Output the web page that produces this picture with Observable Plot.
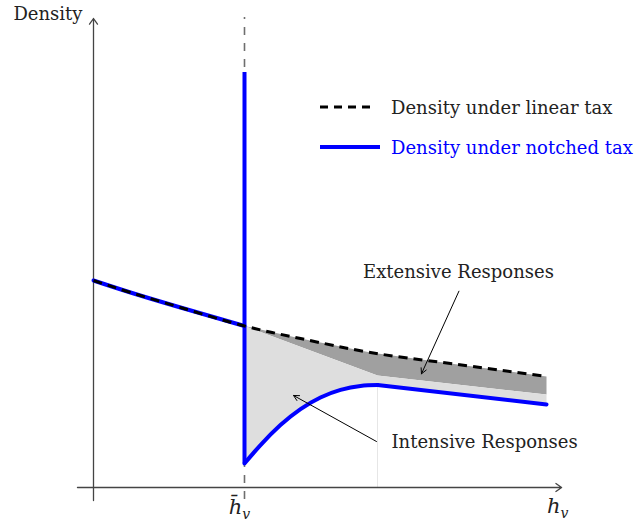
<!DOCTYPE html>
<html>
<head>
<meta charset="utf-8">
<script src="https://cdn.jsdelivr.net/npm/d3@7"></script>
<script src="https://cdn.jsdelivr.net/npm/@observablehq/plot@0.6"></script>
<style>
  body { margin: 0; background: white; }
  #chart { position: relative; width: 641px; height: 521px; font-family: 'DejaVu Serif', serif; }
  .legend { position: absolute; left: 318px; top: 96px; font-size: 18px; }
  .legend .row { display: flex; align-items: center; height: 22px; margin-bottom: 18px; white-space: nowrap; }
  .legend svg { width: 66px; height: 22px; margin-right: 7px; flex: none; }
</style>
</head>
<body>
<div id="chart"></div>
<script>
// Density under a linear tax (counterfactual), sampled along h_v
const linearX = [0, 0.245, 0.576, 1.0, 1.371, 1.834, 2.364, 3.0];
const linearY = [2.07, 1.95, 1.80, 1.615, 1.49, 1.35, 1.24, 1.11];

// Notch location (h̄_v) and the bunching spike
const notchX = 1.0;
const spikeY = [0.24, 4.15];

// Density under the notched tax, just above the notch
const bumpX = [1.0, 1.106, 1.238, 1.371, 1.503, 1.636, 1.768, 1.881];
const bumpY = [0.24, 0.424, 0.624, 0.784, 0.90, 0.976, 1.016, 1.025];
// ... and further up the distribution
const tailX = [1.881, 3.0];
const tailY = [1.025, 0.83];

// Lower edge of the extensive-margin responses
const extensiveX = [1.0, 1.881, 3.0];
const extensiveY = [1.615, 1.12, 0.93];

// Axis extents
const xAxisExtent = [-0.106, 3.1];
const yAxisExtent = [-0.13, 4.69];

// Annotations: label, text anchor point, arrow tail and head
const annotationLabels = ["Extensive Responses", "Intensive Responses"];
const annotationTextX = [2.417, 2.59];
const annotationTextY = [2.15, 0.455];
const annotationFromX = [2.42, 1.874];
const annotationFromY = [1.963, 0.46];
const annotationToX = [2.172, 1.325];
const annotationToY = [1.137, 0.92];

const legendLabels = ["Density under linear tax", "Density under notched tax"];
const FONT = "'DejaVu Serif', serif";
const TEXT_SIZE = 18;

const pts = (xs, ys) => xs.map((x, i) => ({x, y: ys[i]}));
const linearPts = pts(linearX, linearY);
const preNotch = linearPts.filter(d => d.x <= notchX);
const bumpPts = pts(bumpX, bumpY);
const tailPts = pts(tailX, tailY);
const extensivePts = pts(extensiveX, extensiveY);

// Polygons for the shaded response regions
const extensiveRegion = [...linearPts.filter(d => d.x >= notchX), ...extensivePts.slice().reverse()];
const intensiveRegion = [...bumpPts, ...tailPts.slice(1), ...extensivePts.slice().reverse()];

const annotations = annotationLabels.map((label, i) => ({
  label, tx: annotationTextX[i], ty: annotationTextY[i],
  x1: annotationFromX[i], y1: annotationFromY[i], x2: annotationToX[i], y2: annotationToY[i]
}));

const plot = Plot.plot({
  width: 641,
  height: 521,
  x: {domain: [0, 3], range: [93, 546], axis: null},
  y: {domain: [0, 4.7], range: [487, 17], axis: null},
  style: {fontFamily: FONT, fontSize: TEXT_SIZE + "px", background: "white", overflow: "visible"},
  marks: [
    Plot.line(extensiveRegion, {x: "x", y: "y", fill: "#a0a0a0", stroke: "none"}),
    Plot.line(intensiveRegion, {x: "x", y: "y", fill: "#dedede", stroke: "none"}),
    Plot.ruleX([tailX[0]], {y1: 0, y2: tailY[0], stroke: "#e6e6e6", strokeWidth: 1}),
    // notch marker
    Plot.ruleX([notchX], {y1: yAxisExtent[0] + 0.01, y2: yAxisExtent[1] + 0.01, stroke: "#6e6e6e", strokeWidth: 1.6, strokeDasharray: "8,8"}),
    // axes
    Plot.arrow([{x1: xAxisExtent[0], x2: xAxisExtent[1], y1: 0, y2: 0}], {x1: "x1", y1: "y1", x2: "x2", y2: "y2", stroke: "#444", strokeWidth: 1.3, headLength: 8, headAngle: 70}),
    Plot.arrow([{x1: 0, x2: 0, y1: yAxisExtent[0], y2: yAxisExtent[1]}], {x1: "x1", y1: "y1", x2: "x2", y2: "y2", stroke: "#444", strokeWidth: 1.3, headLength: 8, headAngle: 70}),
    // notched-tax density
    Plot.line(preNotch, {x: "x", y: "y", stroke: "blue", strokeWidth: 4, curve: "natural"}),
    Plot.ruleX([notchX], {y1: spikeY[0], y2: spikeY[1], stroke: "blue", strokeWidth: 4}),
    Plot.line(bumpPts, {x: "x", y: "y", stroke: "blue", strokeWidth: 4, curve: "natural"}),
    Plot.line(tailPts, {x: "x", y: "y", stroke: "blue", strokeWidth: 4}),
    // linear-tax density
    Plot.line(linearPts, {x: "x", y: "y", stroke: "black", strokeWidth: 3, strokeDasharray: "9,6", strokeLinecap: "butt", curve: "natural"}),
    // annotations
    Plot.arrow(annotations, {x1: "x1", y1: "y1", x2: "x2", y2: "y2", stroke: "black", strokeWidth: 1, headLength: 9, headAngle: 55}),
    Plot.text(annotations, {x: "tx", y: "ty", text: "label", fontSize: TEXT_SIZE, fill: "#222"}),
    // axis labels
    Plot.text(["Density"], {x: 0, y: yAxisExtent[1], text: d => d, textAnchor: "end", dx: -11, dy: -4, fontSize: TEXT_SIZE, fill: "#222"}),
    Plot.text(["h\u0304"], {x: notchX, y: 0, text: d => d, dx: -5, dy: 20, fontSize: 21, fontStyle: "italic", fill: "#222"}),
    Plot.text(["h"], {x: xAxisExtent[1], y: 0, text: d => d, dx: -4, dy: 19, fontSize: 21, fontStyle: "italic", fill: "#222"})
  ]
});

// subscript v on the h labels
d3.select(plot).selectAll("text").filter(function() {
  return this.textContent === "h" || this.textContent === "h\u0304";
}).each(function() {
  d3.select(this).append("tspan").attr("dy", 5).attr("font-size", 14).attr("font-style", "italic").text("v");
});

const chart = document.getElementById("chart");
chart.appendChild(plot);

// legend
const legend = document.createElement("div");
legend.className = "legend";
legend.innerHTML = `
  <div class="row"><svg><line x1="2" x2="58" y1="11" y2="11" stroke="black" stroke-width="3" stroke-dasharray="8,6"/></svg><span style="color:#222">${legendLabels[0]}</span></div>
  <div class="row"><svg><line x1="2" x2="62" y1="11" y2="11" stroke="blue" stroke-width="4"/></svg><span style="color:blue">${legendLabels[1]}</span></div>`;
chart.appendChild(legend);
</script>
</body>
</html>
